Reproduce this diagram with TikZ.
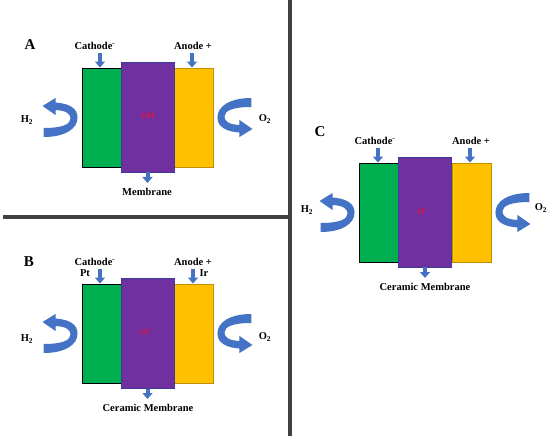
\documentclass[tikz,border=0pt]{standalone}
\usepackage{fontspec}
\setmainfont{Liberation Serif}
\usetikzlibrary{arrows.meta}
\definecolor{cellgreen}{RGB}{0,176,80}
\definecolor{cellpurple}{RGB}{112,48,160}
\definecolor{cellgold}{RGB}{255,192,0}
\definecolor{goldedge}{RGB}{191,144,0}
\definecolor{purpleedge}{RGB}{60,60,150}
\definecolor{flowblue}{RGB}{68,114,196}
\definecolor{ionred}{RGB}{230,20,60}
\definecolor{darkrule}{RGB}{64,64,64}

\tikzset{
  lbl/.style={inner sep=0pt, font=\fontsize{10.5}{12}\selectfont\bfseries},
  panel/.style={inner sep=0pt, font=\fontsize{15}{17}\selectfont\bfseries},
  ion/.style={inner sep=0pt, text=ionred, font=\fontsize{8}{9}\selectfont\bfseries},
  electrode/.style={line width=0.9pt, minimum width=39pt, minimum height=99pt, inner sep=0pt},
  membrane/.style={draw=purpleedge, line width=0.8pt, fill=cellpurple, minimum width=53pt, minimum height=110pt, inner sep=0pt},
  feed/.style={draw=flowblue, line width=4pt, -{Triangle[width=10pt,length=6pt]}},
  divider/.style={draw=darkrule, line width=4.5pt},
  swirl/.pic={
    \fill[flowblue] (-38,19.5) .. controls (-16,19.5) and (-4,11) .. (-4,0)
      .. controls (-4,-9) and (-12,-14) .. (-26,-15) -- (-26,-19.5) -- (-39,-11.5)
      -- (-26,-2.5) -- (-26,-7.5) .. controls (-16,-7) and (-11,-4) .. (-11,1)
      .. controls (-11,7) and (-20,10.5) .. (-38,10.5) -- cycle;
  }
}

\begin{document}
\begin{tikzpicture}[x=1pt, y=-1pt]
  \useasboundingbox (0,0) rectangle (550,436);

  % dividers
  \draw[divider] (3,217) -- (290,217);
  \draw[divider] (290,0) -- (290,436);

  % panel A
  \node[panel] (labA) at (30,45) {A};
  \node (ga) at (101.5,117.5) [electrode, draw=black, fill=cellgreen] {};
  \node (ya) at (193.5,117.5) [electrode, draw=goldedge, fill=cellgold] {};
  \node (pa) at (147.5,117) [membrane] {};
  \node[ion] (iona) at (149,116) {OH\textsuperscript{-}};
  \node[lbl] (cata) at (95,46) {Cathode\textsuperscript{-}};
  \node[lbl] (ana) at (193,46) {Anode +};
  \node[lbl] (mema) at (147,192) {Membrane};
  \node[lbl] (h2a) at (27,120) {H\textsubscript{2}};
  \node[lbl] (o2a) at (265,119) {O\textsubscript{2}};
  \coordinate (fca) at (100,53);
  \coordinate (faa) at (192,53);
  \coordinate (fma) at (147.5,183);
  \draw[feed] (fca) -- (fca |- ga.north);
  \draw[feed] (faa) -- (faa |- ya.north);
  \draw[feed] (pa.south) -- (fma);
  \pic at (ga.west) {swirl};
  \pic[rotate=180] at (ya.east) {swirl};

  % panel B
  \node[panel] (labB) at (29,262) {B};
  \node (gb) at (101.5,333.5) [electrode, draw=black, fill=cellgreen] {};
  \node (yb) at (193.5,333.5) [electrode, draw=goldedge, fill=cellgold] {};
  \node (pb) at (147.5,333.5) [membrane] {};
  \node[ion] (ionb) at (146,332) {O\textsuperscript{2-}};
  \node[lbl] (catb) at (95,262) {Cathode\textsuperscript{-}};
  \node[lbl] (ptb) at (85,273) {Pt};
  \node[lbl] (anb) at (193,262) {Anode +};
  \node[lbl] (irb) at (204,273) {Ir};
  \node[lbl] (memb) at (148,408) {Ceramic Membrane};
  \node[lbl] (h2b) at (27,339) {H\textsubscript{2}};
  \node[lbl] (o2b) at (265,337) {O\textsubscript{2}};
  \coordinate (fcb) at (100,269);
  \coordinate (fab) at (193,269);
  \coordinate (fmb) at (147.5,399);
  \draw[feed] (fcb) -- (fcb |- gb.north);
  \draw[feed] (fab) -- (fab |- yb.north);
  \draw[feed] (pb.south) -- (fmb);
  \pic at (gb.west) {swirl};
  \pic[rotate=180] at (yb.east) {swirl};

  % panel C
  \node[panel] (labC) at (320,132) {C};
  \node (gc) at (378.5,212.5) [electrode, draw=black, fill=cellgreen] {};
  \node (yc) at (471.5,212.5) [electrode, draw=goldedge, fill=cellgold] {};
  \node (pc) at (425,212) [membrane] {};
  \node[ion] (ionc) at (423,211) {H\textsuperscript{+}};
  \node[lbl] (catc) at (375,141) {Cathode\textsuperscript{-}};
  \node[lbl] (anc) at (471,141) {Anode +};
  \node[lbl] (memc) at (425,287) {Ceramic Membrane};
  \node[lbl] (h2c) at (307,210) {H\textsubscript{2}};
  \node[lbl] (o2c) at (541,208) {O\textsubscript{2}};
  \coordinate (fcc) at (378,148);
  \coordinate (fac) at (470,148);
  \coordinate (fmc) at (425,278);
  \draw[feed] (fcc) -- (fcc |- gc.north);
  \draw[feed] (fac) -- (fac |- yc.north);
  \draw[feed] (pc.south) -- (fmc);
  \pic at (gc.west) {swirl};
  \pic[rotate=180] at (yc.east) {swirl};
\end{tikzpicture}
\end{document}
